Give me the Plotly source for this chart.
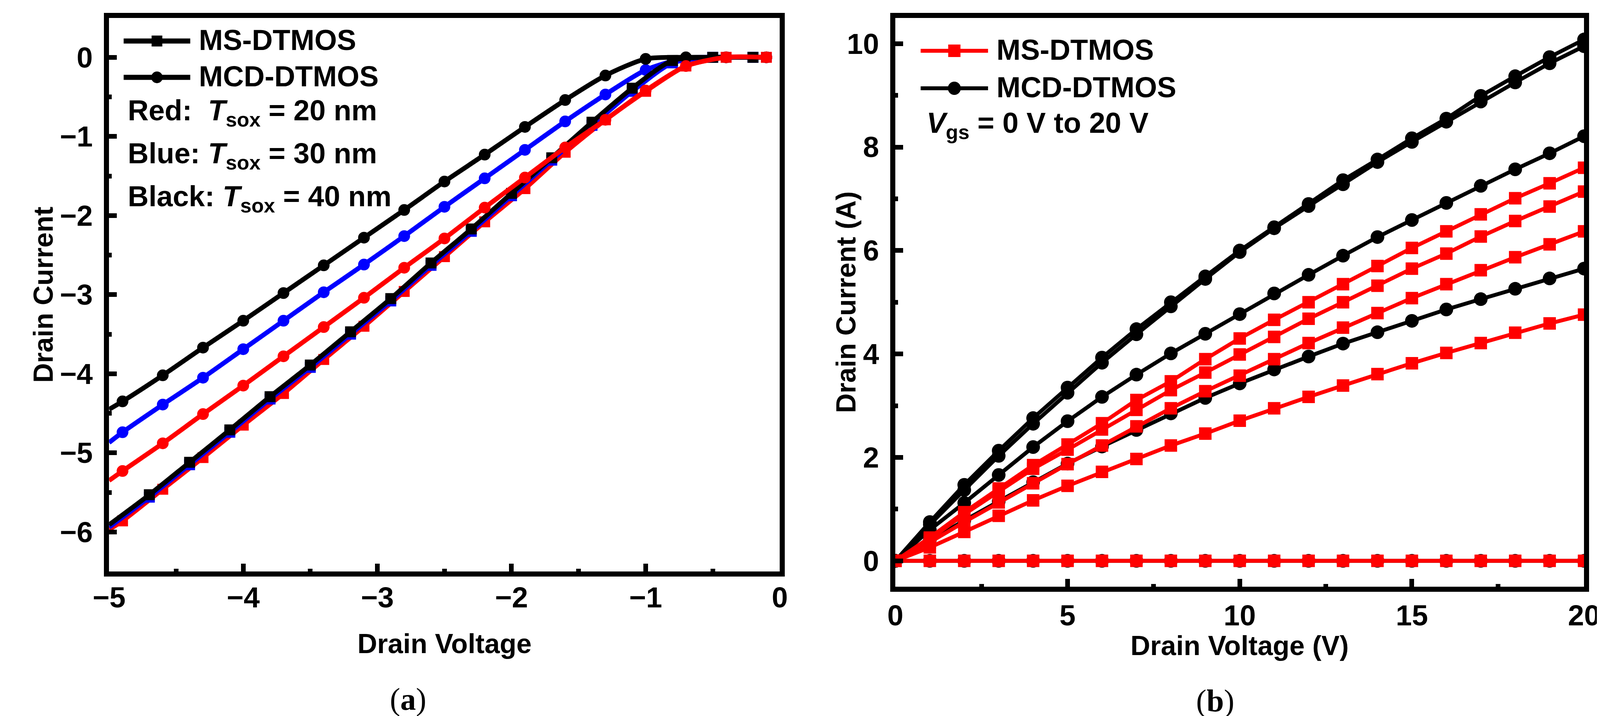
import plotly.graph_objects as go

W, H = 4146, 1833
SANS = "Liberation Sans, Arial, sans-serif"
SERIF = "Liberation Serif, Times New Roman, serif"

# ---------------- panel (a): drain current vs negative drain voltage ----------------
vd_a_circ = [-5.0, -4.9, -4.6, -4.3, -4.0, -3.7, -3.4, -3.1, -2.8, -2.5, -2.2, -1.9,
             -1.6, -1.3, -1.0, -0.7, -0.4, -0.1]
vd_a_sq = [-5.0, -4.7, -4.4, -4.1, -3.8, -3.5, -3.2, -2.9, -2.6, -2.3, -2.0, -1.7,
           -1.4, -1.1, -0.8, -0.5, -0.2]

mcd_20nm = [-5.35, -5.23, -4.88, -4.51, -4.15, -3.78, -3.41, -3.04, -2.66, -2.29, -1.90, -1.52,
            -1.14, -0.79, -0.42, -0.11, 0.0, 0.0]
mcd_30nm = [-4.87, -4.74, -4.39, -4.05, -3.69, -3.33, -2.97, -2.62, -2.26, -1.89, -1.53, -1.17,
            -0.81, -0.47, -0.16, -0.01, 0.0, 0.0]
mcd_40nm = [-4.45, -4.35, -4.02, -3.67, -3.33, -2.98, -2.63, -2.28, -1.93, -1.57, -1.23, -0.88,
            -0.54, -0.23, -0.02, 0.0, 0.0, 0.0]
ms_20nm = [-5.97, -5.86, -5.46, -5.06, -4.65, -4.25, -3.82, -3.40, -2.96, -2.52, -2.08, -1.66,
           -1.20, -0.79, -0.43, -0.11, 0.0, 0.0]
ms_30nm = [-5.94, -5.56, -5.15, -4.74, -4.32, -3.92, -3.50, -3.08, -2.63, -2.20, -1.75, -1.30,
           -0.86, -0.43, -0.07, 0.0, 0.0]
ms_40nm = [-5.91, -5.53, -5.12, -4.71, -4.29, -3.89, -3.47, -3.05, -2.60, -2.17, -1.72, -1.27,
           -0.82, -0.39, -0.04, 0.0, 0.0]

# ---------------- panel (b): output curves, Vgs = 0 V to 20 V ----------------
vd_b = [0, 1, 2, 3, 4, 5, 6, 7, 8, 9, 10, 11, 12, 13, 14, 15, 16, 17, 18, 19, 20]

mcd_b = [
    [0, 0, 0, 0, 0, 0, 0, 0, 0, 0, 0, 0, 0, 0, 0, 0, 0, 0, 0, 0, 0],
    [0, 0.40, 0.78, 1.15, 1.52, 1.88, 2.21, 2.53, 2.85, 3.15, 3.43, 3.70, 3.95, 4.20, 4.42,
     4.64, 4.86, 5.06, 5.26, 5.46, 5.65],
    [0, 0.60, 1.12, 1.66, 2.20, 2.70, 3.17, 3.60, 4.01, 4.39, 4.77, 5.17, 5.53, 5.90, 6.26,
     6.59, 6.92, 7.25, 7.57, 7.88, 8.21],
    [0, 0.70, 1.37, 2.03, 2.65, 3.25, 3.83, 4.38, 4.92, 5.45, 5.97, 6.43, 6.86, 7.28, 7.71,
     8.10, 8.49, 8.88, 9.25, 9.62, 9.95],
    [0, 0.75, 1.47, 2.13, 2.76, 3.35, 3.93, 4.48, 5.00, 5.50, 6.00, 6.45, 6.90, 7.36, 7.76,
     8.17, 8.55, 8.99, 9.37, 9.74, 10.08],
]
ms_b = [
    [0, 0, 0, 0, 0, 0, 0, 0, 0, 0, 0, 0, 0, 0, 0, 0, 0, 0, 0, 0, 0],
    [0, 0.26, 0.56, 0.87, 1.17, 1.45, 1.72, 1.97, 2.23, 2.46, 2.71, 2.95, 3.17, 3.39, 3.61,
     3.82, 4.02, 4.21, 4.41, 4.59, 4.76],
    [0, 0.36, 0.75, 1.13, 1.50, 1.87, 2.23, 2.60, 2.95, 3.28, 3.58, 3.90, 4.21, 4.51, 4.79,
     5.08, 5.35, 5.62, 5.87, 6.12, 6.37],
    [0, 0.42, 0.90, 1.35, 1.78, 2.15, 2.54, 2.92, 3.30, 3.64, 3.99, 4.33, 4.68, 5.00, 5.32,
     5.65, 5.94, 6.27, 6.57, 6.85, 7.14],
    [0, 0.45, 0.94, 1.40, 1.85, 2.25, 2.66, 3.11, 3.47, 3.90, 4.30, 4.66, 5.00, 5.35, 5.70,
     6.05, 6.37, 6.70, 7.01, 7.30, 7.60],
]

RED, BLUE, BLACK = "#ff0000", "#0000ff", "#000000"


def px(x):
    return x / W


def py(y):
    return 1 - y / H


fig = go.Figure()

# panel (a) curves: a smoothed line through every point, markers from the 2nd point on
curves_a = [
    (vd_a_circ, ms_20nm, RED, "square"),
    (vd_a_sq, ms_30nm, BLUE, "square"),
    (vd_a_circ, mcd_30nm, BLUE, "circle"),
    (vd_a_circ, mcd_40nm, BLACK, "circle"),
    (vd_a_sq, ms_40nm, BLACK, "square"),
    (vd_a_circ, mcd_20nm, RED, "circle"),
]
for xs, ys, col, sym in curves_a:
    fig.add_trace(go.Scatter(x=xs, y=ys, mode="lines", xaxis="x", yaxis="y",
                             line=dict(color=col, width=12, shape="spline", smoothing=0.7),
                             showlegend=False, hoverinfo="skip"))
    fig.add_trace(go.Scatter(x=xs[1:], y=ys[1:], mode="markers", xaxis="x", yaxis="y",
                             marker=dict(color=col, symbol=sym,
                                         size=28 if sym == "square" else 30),
                             showlegend=False, hoverinfo="skip"))

# panel (b) curves: black MCD below, red MS on top
for ys in mcd_b:
    fig.add_trace(go.Scatter(x=vd_b, y=ys, mode="lines+markers", xaxis="x2", yaxis="y2",
                             line=dict(color=BLACK, width=10),
                             marker=dict(color=BLACK, symbol="circle", size=35),
                             showlegend=False, hoverinfo="skip"))
for ys in ms_b:
    fig.add_trace(go.Scatter(x=vd_b, y=ys, mode="lines+markers", xaxis="x2", yaxis="y2",
                             line=dict(color=RED, width=10),
                             marker=dict(color=RED, symbol="square", size=32),
                             showlegend=False, hoverinfo="skip"))

TICKFONT = dict(family=SANS, size=74, color="black", weight="bold")


def axis(rng, domain, dtick, minor_dtick, anchor, standoff):
    return dict(range=rng, domain=domain, dtick=dtick, tick0=0, anchor=anchor,
                showline=True, linewidth=13, linecolor="black", mirror=True,
                ticks="inside", ticklen=20, tickwidth=12, tickcolor="black",
                showgrid=False, zeroline=False, tickfont=TICKFONT,
                ticklabelstandoff=standoff,
                minor=dict(ticks="inside", ticklen=7, tickwidth=12, tickcolor="black",
                           dtick=minor_dtick, showgrid=False),
                fixedrange=True)


# plot boxes in pixels: (left, right, top, bottom)
box_a = (234, 1986, 37.5, 1455)
box_b = (2288, 4087, 37.5, 1494)

fig.update_layout(
    width=W, height=H,
    margin=dict(l=0, r=0, t=0, b=0),
    paper_bgcolor="white", plot_bgcolor="white",
    xaxis=axis([-5, 0], [px(box_a[0]), px(box_a[1])], 1, 0.5, "y", -10),
    yaxis=axis([-6.5, 0.5], [py(box_a[3]), py(box_a[2])], 1, 0.5, "x", 14),
    xaxis2=axis([0, 20], [px(box_b[0]), px(box_b[1])], 5, 2.5, "y2", -3),
    yaxis2=axis([-0.5, 10.5], [py(box_b[3]), py(box_b[2])], 2, 1, "x2", 14),
)

shapes = []
annotations = []


def text(x, y, s, size=74, anchor="left", angle=0, family=SANS, weight="bold"):
    annotations.append(dict(x=px(x), y=py(y), xref="paper", yref="paper", text=s,
                            showarrow=False, xanchor=anchor, yanchor="middle",
                            textangle=angle,
                            font=dict(family=family, size=size, color="black", weight=weight)))


def legend_item(x0, x1, y, col, sym, msize, lw, label, tx):
    shapes.append(dict(type="line", xref="paper", yref="paper",
                       x0=px(x0), x1=px(x1), y0=py(y), y1=py(y),
                       line=dict(color=col, width=lw)))
    cx = (x0 + x1) / 2
    r = msize / 2
    shapes.append(dict(type="rect" if sym == "square" else "circle",
                       xref="paper", yref="paper",
                       x0=px(cx - r), x1=px(cx + r), y0=py(y + r), y1=py(y - r),
                       fillcolor=col, line=dict(color=col, width=0)))
    text(tx, y - 3, label)


# legend and notes, panel (a)
legend_item(272, 446, 97, BLACK, "square", 28, 13, "MS-DTMOS", 466)
legend_item(272, 446, 190, BLACK, "circle", 30, 13, "MCD-DTMOS", 466)
text(281, 280, "Red:\u00a0\u00a0<i>T</i><sub>sox</sub> = 20 nm")
text(281, 390, "Blue: <i>T</i><sub>sox</sub> = 30 nm")
text(281, 500, "Black: <i>T</i><sub>sox</sub> = 40 nm")

# legend and notes, panel (b)
legend_item(2354, 2530, 122, RED, "square", 32, 10, "MS-DTMOS", 2550)
legend_item(2354, 2530, 218, BLACK, "circle", 34, 10, "MCD-DTMOS", 2550)
text(2367, 312, "<i>V</i><sub>gs</sub> = 0 V to 20 V")

# axis titles
text(63, (box_a[2] + box_a[3]) / 2, "Drain Current", size=70, anchor="center", angle=-90)
text((box_a[0] + box_a[1]) / 2, 1640, "Drain Voltage", size=70, anchor="center")
text(2159, (box_b[2] + box_b[3]) / 2, "Drain Current (A)", size=70, anchor="center", angle=-90)
text((box_b[0] + box_b[1]) / 2, 1645, "Drain Voltage (V)", size=70, anchor="center")

# panel captions
text(1015, 1782, "(<b>a</b>)", size=80, anchor="center", family=SERIF, weight="normal")
text(3124, 1786, "(<b>b</b>)", size=80, anchor="center", family=SERIF, weight="normal")

fig.update_layout(shapes=shapes, annotations=annotations)

fig.write_html("out.html")
